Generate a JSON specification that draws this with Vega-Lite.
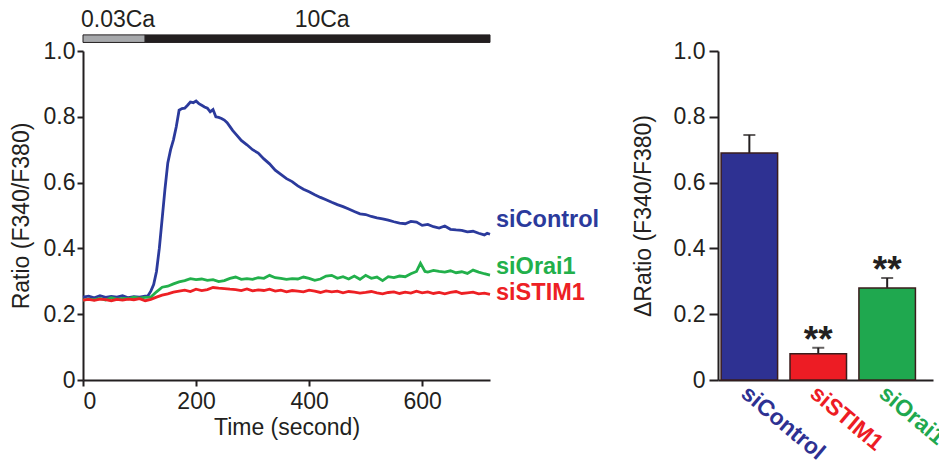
{
  "$schema": "https://vega.github.io/schema/vega-lite/v6.json",
  "background": "white",
  "padding": {"left": 10, "top": 8, "right": 0, "bottom": 0},
  "resolve": {"scale": {"fill": "independent", "color": "independent"}},
  "datasets": {
    "traces": [
      {"series":"siControl","t":0,"v":0.252},{"series":"siControl","t":10,"v":0.255},{"series":"siControl","t":20,"v":0.250},{"series":"siControl","t":30,"v":0.256},{"series":"siControl","t":40,"v":0.251},{"series":"siControl","t":50,"v":0.254},{"series":"siControl","t":60,"v":0.252},{"series":"siControl","t":70,"v":0.256},{"series":"siControl","t":80,"v":0.250},{"series":"siControl","t":90,"v":0.253},{"series":"siControl","t":100,"v":0.252},{"series":"siControl","t":110,"v":0.255},{"series":"siControl","t":115,"v":0.256},{"series":"siControl","t":120,"v":0.27},{"series":"siControl","t":125,"v":0.29},{"series":"siControl","t":130,"v":0.33},{"series":"siControl","t":135,"v":0.40},{"series":"siControl","t":140,"v":0.49},{"series":"siControl","t":145,"v":0.58},{"series":"siControl","t":150,"v":0.66},{"series":"siControl","t":155,"v":0.70},{"series":"siControl","t":160,"v":0.73},{"series":"siControl","t":165,"v":0.77},{"series":"siControl","t":170,"v":0.82},{"series":"siControl","t":175,"v":0.825},{"series":"siControl","t":180,"v":0.826},{"series":"siControl","t":185,"v":0.835},{"series":"siControl","t":190,"v":0.845},{"series":"siControl","t":195,"v":0.843},{"series":"siControl","t":200,"v":0.848},{"series":"siControl","t":205,"v":0.84},{"series":"siControl","t":210,"v":0.835},{"series":"siControl","t":215,"v":0.83},{"series":"siControl","t":220,"v":0.826},{"series":"siControl","t":225,"v":0.815},{"series":"siControl","t":230,"v":0.822},{"series":"siControl","t":235,"v":0.80},{"series":"siControl","t":240,"v":0.798},{"series":"siControl","t":245,"v":0.795},{"series":"siControl","t":250,"v":0.79},{"series":"siControl","t":255,"v":0.782},{"series":"siControl","t":260,"v":0.77},{"series":"siControl","t":265,"v":0.758},{"series":"siControl","t":270,"v":0.748},{"series":"siControl","t":280,"v":0.728},{"series":"siControl","t":290,"v":0.715},{"series":"siControl","t":300,"v":0.70},{"series":"siControl","t":310,"v":0.69},{"series":"siControl","t":320,"v":0.672},{"series":"siControl","t":330,"v":0.657},{"series":"siControl","t":340,"v":0.638},{"series":"siControl","t":350,"v":0.625},{"series":"siControl","t":360,"v":0.612},{"series":"siControl","t":370,"v":0.603},{"series":"siControl","t":380,"v":0.59},{"series":"siControl","t":390,"v":0.58},{"series":"siControl","t":400,"v":0.572},{"series":"siControl","t":410,"v":0.563},{"series":"siControl","t":420,"v":0.555},{"series":"siControl","t":430,"v":0.548},{"series":"siControl","t":440,"v":0.54},{"series":"siControl","t":450,"v":0.533},{"series":"siControl","t":460,"v":0.527},{"series":"siControl","t":470,"v":0.52},{"series":"siControl","t":480,"v":0.512},{"series":"siControl","t":490,"v":0.505},{"series":"siControl","t":500,"v":0.503},{"series":"siControl","t":510,"v":0.497},{"series":"siControl","t":520,"v":0.493},{"series":"siControl","t":530,"v":0.49},{"series":"siControl","t":540,"v":0.486},{"series":"siControl","t":550,"v":0.481},{"series":"siControl","t":560,"v":0.477},{"series":"siControl","t":570,"v":0.475},{"series":"siControl","t":580,"v":0.482},{"series":"siControl","t":590,"v":0.48},{"series":"siControl","t":600,"v":0.47},{"series":"siControl","t":610,"v":0.473},{"series":"siControl","t":620,"v":0.466},{"series":"siControl","t":630,"v":0.462},{"series":"siControl","t":640,"v":0.468},{"series":"siControl","t":650,"v":0.458},{"series":"siControl","t":660,"v":0.456},{"series":"siControl","t":670,"v":0.455},{"series":"siControl","t":680,"v":0.45},{"series":"siControl","t":690,"v":0.452},{"series":"siControl","t":700,"v":0.446},{"series":"siControl","t":710,"v":0.441},{"series":"siControl","t":715,"v":0.446},{"series":"siControl","t":720,"v":0.443},
      {"series":"siOrai1","t":0,"v":0.243},{"series":"siOrai1","t":10,"v":0.246},{"series":"siOrai1","t":20,"v":0.244},{"series":"siOrai1","t":30,"v":0.248},{"series":"siOrai1","t":40,"v":0.243},{"series":"siOrai1","t":50,"v":0.25},{"series":"siOrai1","t":60,"v":0.246},{"series":"siOrai1","t":70,"v":0.248},{"series":"siOrai1","t":80,"v":0.247},{"series":"siOrai1","t":90,"v":0.252},{"series":"siOrai1","t":100,"v":0.249},{"series":"siOrai1","t":110,"v":0.251},{"series":"siOrai1","t":120,"v":0.252},{"series":"siOrai1","t":130,"v":0.268},{"series":"siOrai1","t":140,"v":0.282},{"series":"siOrai1","t":150,"v":0.285},{"series":"siOrai1","t":160,"v":0.292},{"series":"siOrai1","t":170,"v":0.298},{"series":"siOrai1","t":180,"v":0.302},{"series":"siOrai1","t":190,"v":0.308},{"series":"siOrai1","t":200,"v":0.305},{"series":"siOrai1","t":210,"v":0.307},{"series":"siOrai1","t":220,"v":0.303},{"series":"siOrai1","t":230,"v":0.305},{"series":"siOrai1","t":240,"v":0.299},{"series":"siOrai1","t":250,"v":0.302},{"series":"siOrai1","t":260,"v":0.309},{"series":"siOrai1","t":270,"v":0.313},{"series":"siOrai1","t":280,"v":0.306},{"series":"siOrai1","t":290,"v":0.308},{"series":"siOrai1","t":300,"v":0.306},{"series":"siOrai1","t":310,"v":0.311},{"series":"siOrai1","t":320,"v":0.309},{"series":"siOrai1","t":330,"v":0.318},{"series":"siOrai1","t":340,"v":0.311},{"series":"siOrai1","t":350,"v":0.309},{"series":"siOrai1","t":360,"v":0.306},{"series":"siOrai1","t":370,"v":0.308},{"series":"siOrai1","t":380,"v":0.307},{"series":"siOrai1","t":390,"v":0.313},{"series":"siOrai1","t":400,"v":0.309},{"series":"siOrai1","t":410,"v":0.303},{"series":"siOrai1","t":420,"v":0.307},{"series":"siOrai1","t":430,"v":0.316},{"series":"siOrai1","t":440,"v":0.318},{"series":"siOrai1","t":450,"v":0.309},{"series":"siOrai1","t":460,"v":0.314},{"series":"siOrai1","t":470,"v":0.307},{"series":"siOrai1","t":480,"v":0.316},{"series":"siOrai1","t":490,"v":0.306},{"series":"siOrai1","t":500,"v":0.318},{"series":"siOrai1","t":510,"v":0.309},{"series":"siOrai1","t":520,"v":0.313},{"series":"siOrai1","t":530,"v":0.302},{"series":"siOrai1","t":540,"v":0.314},{"series":"siOrai1","t":550,"v":0.311},{"series":"siOrai1","t":560,"v":0.316},{"series":"siOrai1","t":570,"v":0.314},{"series":"siOrai1","t":580,"v":0.323},{"series":"siOrai1","t":590,"v":0.33},{"series":"siOrai1","t":597,"v":0.355},{"series":"siOrai1","t":605,"v":0.33},{"series":"siOrai1","t":610,"v":0.328},{"series":"siOrai1","t":620,"v":0.333},{"series":"siOrai1","t":630,"v":0.33},{"series":"siOrai1","t":640,"v":0.328},{"series":"siOrai1","t":650,"v":0.332},{"series":"siOrai1","t":660,"v":0.326},{"series":"siOrai1","t":670,"v":0.329},{"series":"siOrai1","t":680,"v":0.324},{"series":"siOrai1","t":690,"v":0.334},{"series":"siOrai1","t":700,"v":0.328},{"series":"siOrai1","t":710,"v":0.323},{"series":"siOrai1","t":720,"v":0.319},
      {"series":"siSTIM1","t":0,"v":0.243},{"series":"siSTIM1","t":10,"v":0.245},{"series":"siSTIM1","t":20,"v":0.242},{"series":"siSTIM1","t":30,"v":0.246},{"series":"siSTIM1","t":40,"v":0.244},{"series":"siSTIM1","t":50,"v":0.241},{"series":"siSTIM1","t":60,"v":0.245},{"series":"siSTIM1","t":70,"v":0.243},{"series":"siSTIM1","t":80,"v":0.246},{"series":"siSTIM1","t":90,"v":0.244},{"series":"siSTIM1","t":100,"v":0.247},{"series":"siSTIM1","t":110,"v":0.241},{"series":"siSTIM1","t":120,"v":0.245},{"series":"siSTIM1","t":130,"v":0.252},{"series":"siSTIM1","t":140,"v":0.258},{"series":"siSTIM1","t":150,"v":0.262},{"series":"siSTIM1","t":160,"v":0.267},{"series":"siSTIM1","t":170,"v":0.27},{"series":"siSTIM1","t":180,"v":0.273},{"series":"siSTIM1","t":190,"v":0.269},{"series":"siSTIM1","t":200,"v":0.276},{"series":"siSTIM1","t":210,"v":0.272},{"series":"siSTIM1","t":220,"v":0.275},{"series":"siSTIM1","t":230,"v":0.281},{"series":"siSTIM1","t":240,"v":0.279},{"series":"siSTIM1","t":250,"v":0.278},{"series":"siSTIM1","t":260,"v":0.276},{"series":"siSTIM1","t":270,"v":0.275},{"series":"siSTIM1","t":280,"v":0.272},{"series":"siSTIM1","t":290,"v":0.277},{"series":"siSTIM1","t":300,"v":0.271},{"series":"siSTIM1","t":310,"v":0.274},{"series":"siSTIM1","t":320,"v":0.272},{"series":"siSTIM1","t":330,"v":0.276},{"series":"siSTIM1","t":340,"v":0.27},{"series":"siSTIM1","t":350,"v":0.273},{"series":"siSTIM1","t":360,"v":0.268},{"series":"siSTIM1","t":370,"v":0.272},{"series":"siSTIM1","t":380,"v":0.27},{"series":"siSTIM1","t":390,"v":0.268},{"series":"siSTIM1","t":400,"v":0.273},{"series":"siSTIM1","t":410,"v":0.27},{"series":"siSTIM1","t":420,"v":0.266},{"series":"siSTIM1","t":430,"v":0.271},{"series":"siSTIM1","t":440,"v":0.268},{"series":"siSTIM1","t":450,"v":0.27},{"series":"siSTIM1","t":460,"v":0.265},{"series":"siSTIM1","t":470,"v":0.269},{"series":"siSTIM1","t":480,"v":0.267},{"series":"siSTIM1","t":490,"v":0.264},{"series":"siSTIM1","t":500,"v":0.266},{"series":"siSTIM1","t":510,"v":0.269},{"series":"siSTIM1","t":520,"v":0.265},{"series":"siSTIM1","t":530,"v":0.262},{"series":"siSTIM1","t":540,"v":0.266},{"series":"siSTIM1","t":550,"v":0.268},{"series":"siSTIM1","t":560,"v":0.263},{"series":"siSTIM1","t":570,"v":0.267},{"series":"siSTIM1","t":580,"v":0.264},{"series":"siSTIM1","t":590,"v":0.27},{"series":"siSTIM1","t":600,"v":0.265},{"series":"siSTIM1","t":610,"v":0.268},{"series":"siSTIM1","t":620,"v":0.263},{"series":"siSTIM1","t":630,"v":0.266},{"series":"siSTIM1","t":640,"v":0.262},{"series":"siSTIM1","t":650,"v":0.266},{"series":"siSTIM1","t":660,"v":0.269},{"series":"siSTIM1","t":670,"v":0.263},{"series":"siSTIM1","t":680,"v":0.265},{"series":"siSTIM1","t":690,"v":0.267},{"series":"siSTIM1","t":700,"v":0.262},{"series":"siSTIM1","t":710,"v":0.264},{"series":"siSTIM1","t":720,"v":0.26}
    ],
    "endLabels": [
      {"series":"siControl","t":720,"v":0.465},
      {"series":"siOrai1","t":720,"v":0.322},
      {"series":"siSTIM1","t":720,"v":0.243}
    ],
    "phases": [
      {"phase":"0.03Ca","start":0,"end":110,"mid":62},
      {"phase":"10Ca","start":110,"end":720,"mid":423}
    ],
    "bars": [
      {"group":"siControl","mean":0.69,"upper":0.745,"sig":""},
      {"group":"siSTIM1","mean":0.08,"upper":0.098,"sig":"**"},
      {"group":"siOrai1","mean":0.28,"upper":0.31,"sig":"**"}
    ]
  },
  "config": {
    "view": {"stroke": null},
    "font": "Liberation Sans",
    "axis": {
      "grid": false,
      "domainColor": "#231f20",
      "domainWidth": 2,
      "tickColor": "#231f20",
      "tickWidth": 2,
      "tickSize": 6,
      "labelFont": "Liberation Sans",
      "labelFontSize": 23,
      "labelColor": "#231f20",
      "labelPadding": 2,
      "titleFont": "Liberation Sans",
      "titleFontSize": 23,
      "titleFontWeight": "normal",
      "titleColor": "#231f20"
    }
  },
  "spacing": 32,
  "hconcat": [
    {
      "width": 407,
      "height": 329,
      "layer": [
        {
          "data": {"name": "phases"},
          "mark": {"type": "rect", "stroke": "#231f20", "strokeWidth": 1},
          "encoding": {
            "x": {"field": "start", "type": "quantitative"},
            "x2": {"field": "end"},
            "y": {"datum": 1.026},
            "y2": {"datum": 1.049},
            "fill": {"field": "phase", "type": "nominal", "scale": {"domain": ["0.03Ca","10Ca"], "range": ["#a7a9ac","#231f20"]}, "legend": null}
          }
        },
        {
          "data": {"name": "phases"},
          "mark": {"type": "text", "fontSize": 23, "baseline": "alphabetic", "align": "center", "color": "#231f20"},
          "encoding": {
            "x": {"field": "mid", "type": "quantitative"},
            "y": {"datum": 1.073},
            "text": {"field": "phase"}
          }
        },
        {
          "data": {"name": "traces"},
          "mark": {"type": "line", "strokeWidth": 2.8},
          "encoding": {
            "x": {"field": "t", "type": "quantitative", "scale": {"domain": [0, 720], "nice": false},
                  "axis": {"values": [0, 200, 400, 600], "title": "Time (second)", "labelPadding": 4, "titlePadding": 3}},
            "y": {"field": "v", "type": "quantitative", "scale": {"domain": [0, 1], "nice": false},
                  "axis": {"values": [0, 0.2, 0.4, 0.6, 0.8, 1.0], "labelExpr": "datum.value == 0 ? '0' : format(datum.value, '.1f')", "title": "Ratio (F340/F380)", "titlePadding": 10}},
            "color": {"field": "series", "type": "nominal", "scale": {"domain": ["siSTIM1","siOrai1","siControl"], "range": ["#ed2024","#22b04b","#2b3a9c"]}, "legend": null}
          }
        },
        {
          "data": {"name": "endLabels"},
          "mark": {"type": "text", "fontSize": 23.5, "fontWeight": "bold", "align": "left", "baseline": "alphabetic", "dx": 6},
          "encoding": {
            "x": {"field": "t", "type": "quantitative"},
            "y": {"field": "v", "type": "quantitative"},
            "text": {"field": "series"},
            "color": {"field": "series", "type": "nominal", "scale": {"domain": ["siSTIM1","siOrai1","siControl"], "range": ["#ed2024","#22b04b","#2b3a9c"]}, "legend": null}
          }
        }
      ]
    },
    {
      "width": 215,
      "height": 329,
      "data": {"name": "bars"},
      "encoding": {
        "x": {"field": "group", "type": "nominal", "sort": ["siControl","siSTIM1","siOrai1"],
              "scale": {"paddingInner": 0.18, "paddingOuter": 0.15, "align": 0.15},
              "axis": {"title": null, "ticks": false, "labelAngle": 40, "labelAlign": "left", "labelBaseline": "middle", "labelFontWeight": "bold", "labelFontSize": 23, "labelPadding": 10, "labelOffset": -5,
                       "labelColor": {"expr": "datum.value == 'siControl' ? '#2e3192' : datum.value == 'siSTIM1' ? '#ed1c24' : '#1fa84f'"}}}
      },
      "layer": [
        {
          "mark": {"type": "rule", "strokeWidth": 2, "color": "#231f20"},
          "encoding": {
            "y": {"field": "mean", "type": "quantitative"},
            "y2": {"field": "upper"}
          }
        },
        {
          "mark": {"type": "tick", "size": 12, "thickness": 2, "color": "#231f20"},
          "encoding": {
            "y": {"field": "upper", "type": "quantitative"}
          }
        },
        {
          "mark": {"type": "bar", "stroke": "#3a1c1c", "strokeWidth": 1.5},
          "encoding": {
            "y": {"field": "mean", "type": "quantitative", "scale": {"domain": [0, 1], "nice": false},
                  "axis": {"values": [0, 0.2, 0.4, 0.6, 0.8, 1.0], "labelExpr": "datum.value == 0 ? '0' : format(datum.value, '.1f')", "title": "ΔRatio (F340/F380)", "titlePadding": 18, "tickSize": 9, "labelPadding": 4}},
            "fill": {"field": "group", "type": "nominal", "scale": {"domain": ["siControl","siSTIM1","siOrai1"], "range": ["#2e3192","#ed1c24","#1fa84f"]}, "legend": null}
          }
        },
        {
          "mark": {"type": "text", "fontSize": 37, "fontWeight": "bold", "baseline": "alphabetic", "dy": 4, "color": "#231f20"},
          "encoding": {
            "y": {"field": "upper", "type": "quantitative"},
            "text": {"field": "sig"}
          }
        }
      ]
    }
  ]
}
